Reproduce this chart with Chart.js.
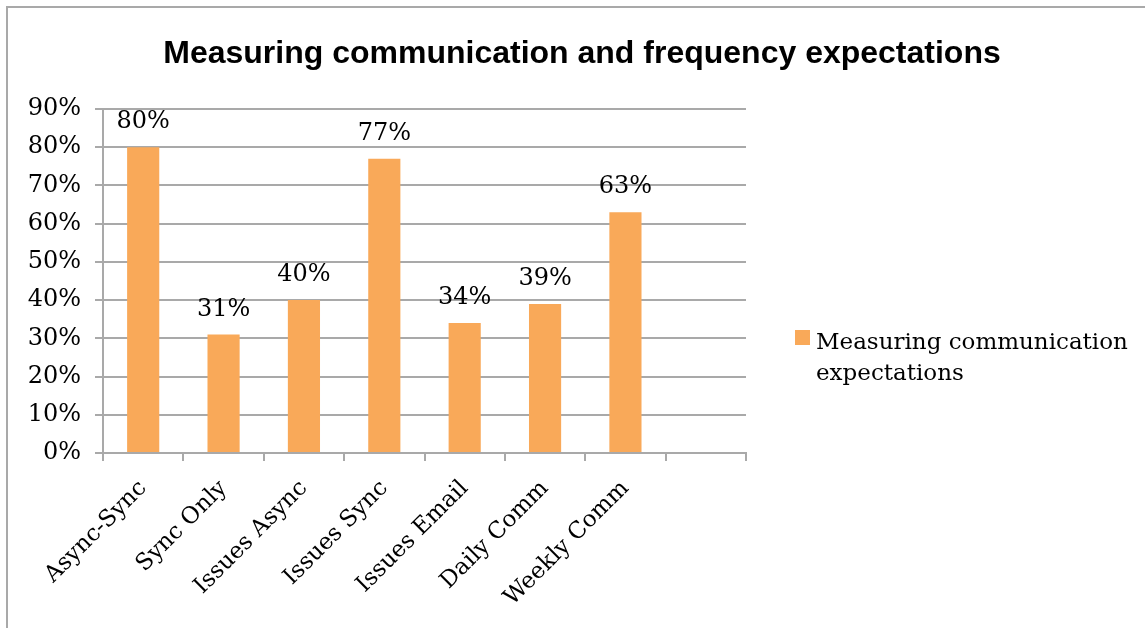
<!DOCTYPE html>
<html>
<head>
<meta charset="utf-8">
<script src="https://cdn.jsdelivr.net/npm/chart.js@4"></script>
<style>
  html, body { margin: 0; padding: 0; background: #fff; }
  #wrap { position: relative; width: 1145px; height: 628px; overflow: hidden; }
  #frame {
    position: absolute; left: 6px; top: 6px; width: 1200px; height: 700px;
    border-top: 2px solid #a9a9a9; border-left: 2px solid #a9a9a9;
  }
  #title {
    position: absolute; left: 0; top: 34px; width: 1164px; text-align: center;
    font: bold 32px/36px "Liberation Sans", Arial, sans-serif; color: #000;
  }
  #chart { position: absolute; left: 0; top: 0; }
  #legend {
    position: absolute; left: 795px; top: 326px; width: 340px;
    font: 23px/31px "DejaVu Serif", serif; color: #000;
  }
  #legend .item { position: relative; padding-left: 21px; }
  #legend .swatch { position: absolute; left: 0; top: 4px; width: 15px; height: 15px; }
</style>
</head>
<body>
<div id="wrap">
  <div id="frame"></div>
  <canvas id="chart" width="1145" height="628"></canvas>
  <div id="title">Measuring communication and frequency expectations</div>
  <div id="legend"></div>
</div>
<script>
// categorías (la última queda vacía)
const categorias = ['Async-Sync', 'Sync Only', 'Issues Async', 'Issues Sync', 'Issues Email', 'Daily Comm', 'Weekly Comm', ''];
// porcentajes por categoría
const valores = [80, 31, 40, 77, 34, 39, 63, null];
const serie = 'Measuring communication expectations';
const ticksY = [0, 10, 20, 30, 40, 50, 60, 70, 80, 90];

const naranja = '#f9a959';
const gris = '#a9a9a9';
const fuenteEjes = { family: '"DejaVu Serif", serif', size: 24 };
const fuenteCategorias = { family: '"DejaVu Serif", serif', size: 23 };

// etiquetas de valor encima de cada barra
const etiquetasValor = {
    id: 'etiquetasValor',
    afterDatasetsDraw(chart) {
        const ctx = chart.ctx;
        ctx.save();
        ctx.font = '24px "DejaVu Serif", serif';
        ctx.fillStyle = '#000';
        ctx.textAlign = 'center';
        ctx.textBaseline = 'alphabetic';
        chart.getDatasetMeta(0).data.forEach((barra, i) => {
            const v = chart.data.datasets[0].data[i];
            if (v == null) return;
            ctx.fillText(v + '%', barra.x, barra.y - 19);
        });
        ctx.restore();
    }
};

// leyenda en HTML para que el texto pueda partirse en dos líneas
const leyendaHtml = {
    id: 'leyendaHtml',
    afterUpdate(chart) {
        const cont = document.getElementById('legend');
        cont.innerHTML = '';
        chart.data.datasets.forEach(ds => {
            const item = document.createElement('div');
            item.className = 'item';
            const sw = document.createElement('span');
            sw.className = 'swatch';
            sw.style.background = ds.backgroundColor;
            item.appendChild(sw);
            item.appendChild(document.createTextNode(ds.label));
            cont.appendChild(item);
        });
    }
};

const ctx = document.getElementById('chart').getContext('2d');
new Chart(ctx, {
    type: 'bar',
    data: {
        labels: categorias,
        datasets: [{
            label: serie,
            data: valores,
            backgroundColor: naranja,
            categoryPercentage: 1,
            barPercentage: 0.4
        }]
    },
    options: {
        responsive: false,
        animation: false,
        layout: { padding: { left: 0, top: 109, right: 399, bottom: 0 } },
        plugins: {
            legend: { display: false },
            title: { display: false },
            tooltip: { enabled: false }
        },
        scales: {
            x: {
                grid: { offset: true, drawOnChartArea: false, drawTicks: true, tickLength: 8, color: gris, lineWidth: 2 },
                border: { color: gris, width: 2 },
                ticks: { autoSkip: false, minRotation: 45, maxRotation: 45, padding: 14, color: '#000', font: fuenteCategorias },
                afterFit: s => { s.height = 175; }
            },
            y: {
                min: ticksY[0],
                max: ticksY[ticksY.length - 1],
                afterBuildTicks: s => { s.ticks = ticksY.map(v => ({ value: v })); },
                grid: { color: gris, lineWidth: 2, tickLength: 8 },
                border: { color: gris, width: 2 },
                ticks: { padding: 14, color: '#000', font: fuenteEjes, callback: v => v + '%' },
                afterFit: s => { s.width = 103; }
            }
        }
    },
    plugins: [etiquetasValor, leyendaHtml]
});
</script>
</body>
</html>
